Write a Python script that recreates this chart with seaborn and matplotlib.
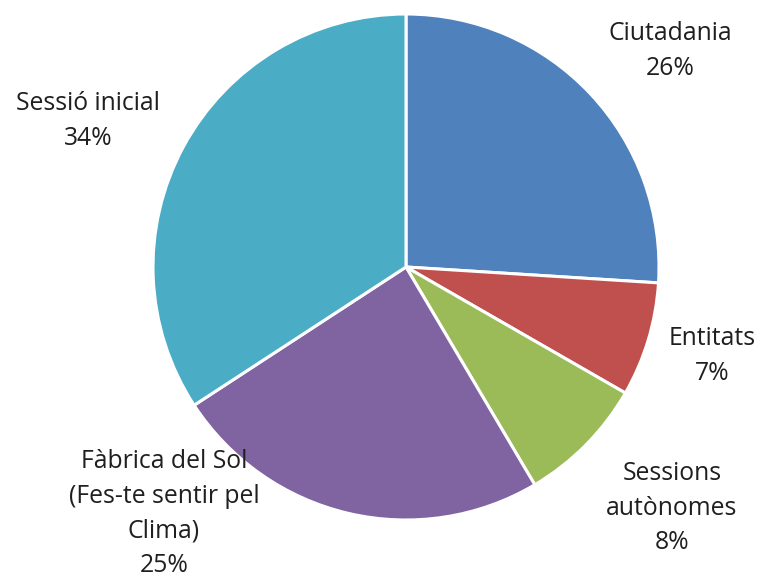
import matplotlib
matplotlib.use("Agg")
import matplotlib.pyplot as plt
import seaborn as sns

categories = ["Ciutadania", "Entitats", "Sessions autònomes",
              "Fàbrica del Sol (Fes-te sentir pel Clima)", "Sessió inicial"]
values = [26.0, 7.3, 8.2, 24.3, 34.2]
label_texts = ["Ciutadania\n26%", "Entitats\n7%", "Sessions\nautònomes\n8%",
               "Fàbrica del Sol\n(Fes-te sentir pel\nClima)\n25%", "Sessió inicial\n34%"]
colors = ["#4F81BD", "#C0504D", "#9BBB59", "#8064A2", "#4BACC6"]

sns.set_theme(style="white")
plt.rcParams["font.family"] = ["Open Sans", "DejaVu Sans"]

fig = plt.figure(figsize=(7.59, 5.82), dpi=100)
cx, cy, r = 406, 267, 253
ax = fig.add_axes([(cx - r) / 759, (582 - cy - r) / 582, 2 * r / 759, 2 * r / 582])
ax.pie(values, colors=sns.color_palette(colors), startangle=90, counterclock=False,
       radius=1, wedgeprops=dict(edgecolor="white", linewidth=2.2))
ax.set_xlim(-1, 1)
ax.set_ylim(-1, 1)
ax.set_axis_off()

label_pos = [(1.043, 0.854), (1.209, -0.352), (1.051, -0.953), (-0.957, -0.975), (-1.257, 0.577)]
for txt, (x, y) in zip(label_texts, label_pos):
    ax.text(x, y, txt, ha="center", va="center", fontsize=17.8, color="#1f1f1f",
            linespacing=1.52, clip_on=False)

fig.savefig("out.png", dpi=100)
